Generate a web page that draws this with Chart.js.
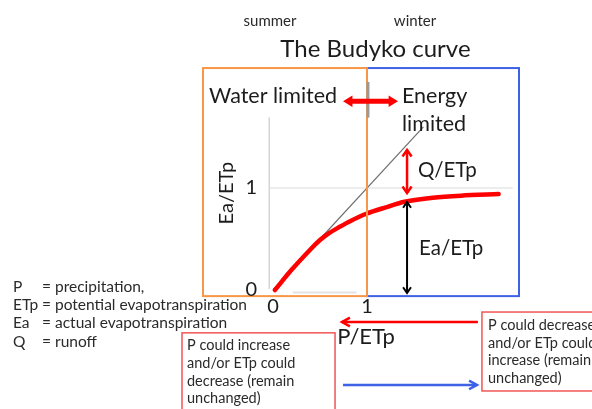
<!DOCTYPE html>
<html lang="en">
<head>
<meta charset="UTF-8" />
<title>The Budyko curve</title>
<script src="https://cdn.jsdelivr.net/npm/chart.js"></script>
<style>
  html, body { margin: 0; padding: 0; background: #fff; }
  #wrap { width: 592px; height: 409px; position: relative; }
</style>
</head>
<body>
<div id="wrap"><canvas id="budyko"></canvas></div>
<script>
  // Budyko curve (Ea/ETp against P/ETp)
  const curveX = [0.02, 0.2, 0.4, 0.5, 0.6, 0.7, 0.82, 1.0, 1.2, 1.4, 1.7, 2.0, 2.4];
  const curveY = [0, 0.2, 0.4, 0.49, 0.56, 0.615, 0.675, 0.75, 0.81, 0.865, 0.905, 0.925, 0.94];
  // energy limit line Ea = P
  const limitX = [0, 1.6];
  const limitY = [0, 1.6];
  const xTicks = [0, 1];
  const yTicks = [0, 1];

  const termNames = ["P", "ETp", "Ea", "Q"];
  const termDefs = ["= precipitation,", "= potential evapotranspiration", "= actual evapotranspiration", "= runoff"];
  const wetNote = ["P could increase", "and/or ETp could", "decrease (remain", "unchanged)"];
  const dryNote = ["P could decrease", "and/or ETp could", "increase (remain", "unchanged)"];

  const FONT = "Lato, 'Open Sans', sans-serif";
  const RED = "#ff0000";
  const ORANGE = "#f79646";
  const BLUE = "#3d62e6";
  const BOXRED = "#f25555";
  const INK = "#1c1c1c";

  function pts(xs, ys) {
    return xs.map((x, i) => ({ x: x, y: ys[i] }));
  }

  function arrow(ctx, x1, y1, x2, y2, o) {
    const a = Math.atan2(y2 - y1, x2 - x1);
    ctx.save();
    ctx.strokeStyle = o.color;
    ctx.fillStyle = o.color;
    ctx.lineWidth = o.width;
    ctx.lineCap = "butt";
    const cut = o.filled ? o.head * 0.8 : 0;
    const sx = x1 + (o.both ? Math.cos(a) * cut : 0), sy = y1 + (o.both ? Math.sin(a) * cut : 0);
    const ex = x2 - Math.cos(a) * cut, ey = y2 - Math.sin(a) * cut;
    ctx.beginPath();
    ctx.moveTo(sx, sy);
    ctx.lineTo(ex, ey);
    ctx.stroke();
    const heads = o.both ? [[x2, y2, a], [x1, y1, a + Math.PI]] : [[x2, y2, a]];
    heads.forEach(h => {
      const [tx, ty, ang] = h;
      const w = o.spread || 0.5;
      const p1 = [tx - o.head * Math.cos(ang - w), ty - o.head * Math.sin(ang - w)];
      const p2 = [tx - o.head * Math.cos(ang + w), ty - o.head * Math.sin(ang + w)];
      ctx.beginPath();
      if (o.filled) {
        ctx.moveTo(tx, ty);
        ctx.lineTo(p1[0], p1[1]);
        ctx.lineTo(p2[0], p2[1]);
        ctx.closePath();
        ctx.fill();
      } else {
        ctx.lineWidth = o.headWidth || o.width;
        ctx.lineJoin = "miter";
        ctx.moveTo(p1[0], p1[1]);
        ctx.lineTo(tx, ty);
        ctx.lineTo(p2[0], p2[1]);
        ctx.stroke();
      }
    });
    ctx.restore();
  }

  const budykoDecor = {
    id: "budykoDecor",
    beforeDatasetsDraw(chart) {
      const ctx = chart.ctx, xs = chart.scales.x, ys = chart.scales.y;
      const X = v => xs.getPixelForValue(v), Y = v => ys.getPixelForValue(v);
      ctx.save();
      // axis and the Ea/ETp = 1 line
      ctx.strokeStyle = "#d4d4d4";
      ctx.lineWidth = 1.5;
      ctx.beginPath();
      ctx.moveTo(X(-0.04), Y(0.01));
      ctx.lineTo(X(-0.04), Y(1.69));
      ctx.stroke();
      ctx.strokeStyle = "#dcdcdc";
      ctx.lineWidth = 1.2;
      ctx.beginPath();
      ctx.moveTo(X(-0.04), Y(1));
      ctx.lineTo(X(2.55), Y(1));
      ctx.stroke();
      ctx.strokeStyle = "#e4e4e4";
      ctx.lineWidth = 2;
      ctx.beginPath();
      ctx.moveTo(X(0.21), Y(-0.025));
      ctx.lineTo(X(0.89), Y(-0.025));
      ctx.stroke();
      ctx.restore();
    },
    afterDatasetsDraw(chart) {
      const ctx = chart.ctx, xs = chart.scales.x, ys = chart.scales.y;
      const X = v => xs.getPixelForValue(v), Y = v => ys.getPixelForValue(v);
      const text = (s, x, y, size, align, color, weight) => {
        ctx.font = (weight || "normal") + " " + size + "px " + FONT;
        ctx.fillStyle = color || INK;
        ctx.textAlign = align || "left";
        ctx.textBaseline = "middle";
        ctx.fillText(s, X(x), Y(y));
      };
      ctx.save();

      // regime boxes
      ctx.lineWidth = 2;
      ctx.strokeStyle = BLUE;
      ctx.strokeRect(X(1), Y(2.176), X(2.617) - X(1), Y(-0.06) - Y(2.176));
      ctx.strokeStyle = ORANGE;
      ctx.strokeRect(X(-0.745), Y(2.176), X(1) - X(-0.745), Y(-0.06) - Y(2.176));

      // divider tick and shifting arrow at the top
      ctx.strokeStyle = "#9a9a9a";
      ctx.lineWidth = 3;
      ctx.beginPath();
      ctx.moveTo(X(1.01), Y(2.04));
      ctx.lineTo(X(1.01), Y(1.69));
      ctx.stroke();
      arrow(ctx, X(0.745), Y(1.85), X(1.33), Y(1.85), { color: RED, width: 5, head: 11, spread: 0.55, filled: true, both: true });

      // Q/ETp and Ea/ETp arrows
      arrow(ctx, X(1.426), Y(0.95), X(1.426), Y(1.373), { color: RED, width: 2.5, head: 8, spread: 0.6, both: true });
      arrow(ctx, X(1.426), Y(-0.03), X(1.426), Y(0.863), { color: "#000", width: 2, head: 7, spread: 0.6, both: true });

      // lower arrows
      arrow(ctx, X(2.18), Y(-0.314), X(0.734), Y(-0.314), { color: RED, width: 2.5, head: 9, spread: 0.5 });
      arrow(ctx, X(0.745), Y(-0.931), X(2.17), Y(-0.931), { color: BLUE, width: 2.5, head: 9, spread: 0.5 });

      // note boxes
      ctx.strokeStyle = BOXRED;
      ctx.lineWidth = 1.5;
      ctx.strokeRect(X(-0.968), Y(-0.42), X(0.66) - X(-0.968), Y(-1.4) - Y(-0.42));
      ctx.strokeRect(X(2.223), Y(-0.216), X(3.6) - X(2.223), Y(-0.99) - Y(-0.216));
      const wetY = [-0.539, -0.716, -0.892, -1.059];
      wetNote.forEach((s, i) => text(s, -0.915, wetY[i], 14.5, "left", "#2a2a2a"));
      const dryY = [-0.343, -0.52, -0.686, -0.863];
      dryNote.forEach((s, i) => text(s, 2.287, dryY[i], 14.5, "left", "#2a2a2a"));

      // titles and labels
      text("summer", -0.032, 2.637, 15, "center", "#2a2a2a");
      text("winter", 1.511, 2.637, 15, "center", "#2a2a2a");
      text("The Budyko curve", 1.09, 2.363, 24, "center", INK);
      text("Water limited", -0.68, 1.9, 21.5, "left", INK);
      text("Energy", 1.372, 1.9, 21.5, "left", INK);
      text("limited", 1.372, 1.627, 21.5, "left", INK);
      text("Q/ETp", 1.543, 1.176, 20.5, "left", INK);
      text("Ea/ETp", 1.553, 0.412, 20.5, "left", INK);
      text("P/ETp", 0.99, -0.46, 22, "center", INK);

      ctx.save();
      ctx.translate(X(-0.489), Y(0.95));
      ctx.rotate(-Math.PI / 2);
      ctx.font = "20px " + FONT;
      ctx.fillStyle = INK;
      ctx.textAlign = "center";
      ctx.textBaseline = "middle";
      ctx.fillText("Ea/ETp", 0, 0);
      ctx.restore();

      // ticks
      yTicks.forEach(v => text(String(v), -0.17, v, 20, "right", INK));
      xTicks.forEach(v => text(String(v), v, -0.167, 20, "center", INK));

      // legend of symbols
      const legY = [0.029, -0.147, -0.324, -0.51];
      termNames.forEach((s, i) => {
        text(s, -2.766, legY[i], 15.5, "left", "#2a2a2a");
        text(termDefs[i], -2.457, legY[i], 15.5, "left", "#2a2a2a");
      });
      ctx.restore();
    }
  };

  new Chart(document.getElementById("budyko"), {
    type: "scatter",
    data: {
      datasets: [
        {
          label: "Budyko curve",
          data: pts(curveX, curveY),
          showLine: true,
          borderColor: RED,
          borderWidth: 4.5,
          borderCapStyle: "round",
          pointRadius: 0,
          tension: 0.3,
          clip: false
        },
        {
          label: "Energy limit",
          data: pts(limitX, limitY),
          showLine: true,
          borderColor: "#6e6e6e",
          borderWidth: 1.2,
          pointRadius: 0,
          clip: false
        }
      ]
    },
    options: {
      responsive: true,
      maintainAspectRatio: false,
      animation: false,
      layout: { padding: { left: 273, right: 74.6, top: 116.6, bottom: 119 } },
      scales: {
        x: { type: "linear", min: 0, max: 2.6, display: false },
        y: { type: "linear", min: 0, max: 1.7, display: false }
      },
      plugins: { legend: { display: false }, tooltip: { enabled: false } }
    },
    plugins: [budykoDecor]
  });
</script>
</body>
</html>
